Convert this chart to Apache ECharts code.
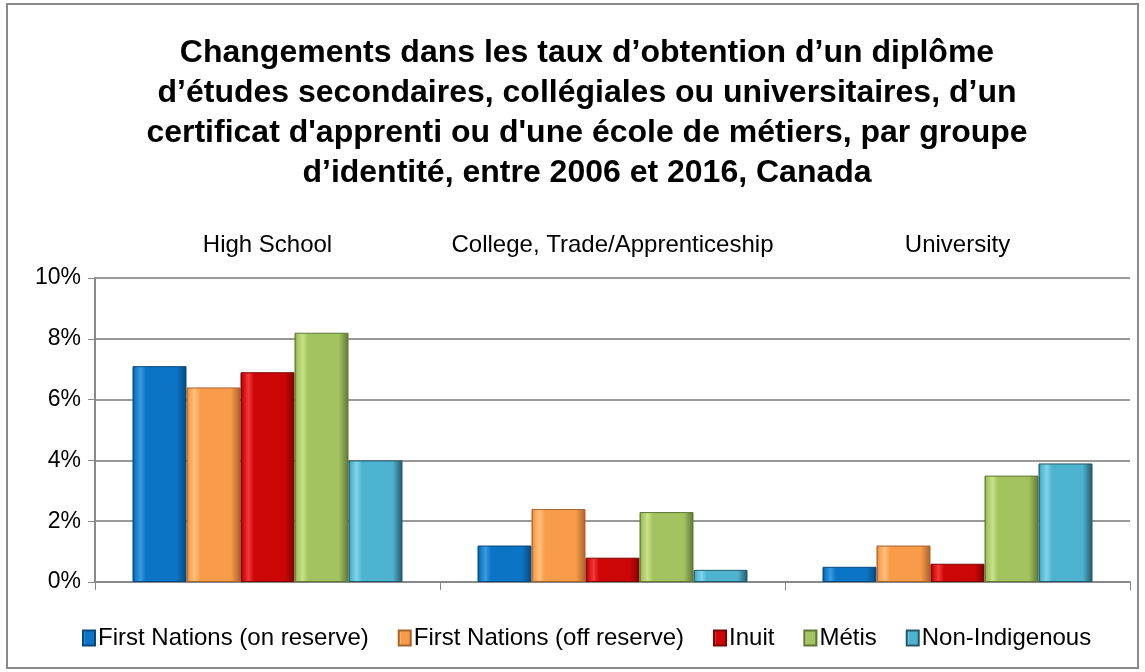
<!DOCTYPE html>
<html>
<head>
<meta charset="utf-8">
<script src="https://cdn.jsdelivr.net/npm/echarts@6/dist/echarts.min.js"></script>
<style>
  html, body { margin: 0; padding: 0; background: #fff; }
  #chart { width: 1145px; height: 672px; }
</style>
</head>
<body>
<div id="chart"></div>
<script>
// categories and values (percent change, 2006 to 2016)
const categories = ['High School', 'College, Trade/Apprenticeship', 'University']
const groups = ['First Nations (on reserve)', 'First Nations (off reserve)', 'Inuit', 'Métis', 'Non-Indigenous']
const onReserve = [7.1, 1.2, 0.5]
const offReserve = [6.4, 2.4, 1.2]
const inuit = [6.9, 0.8, 0.6]
const metis = [8.2, 2.3, 3.5]
const nonIndigenous = [4.0, 0.4, 3.9]
const yTicks = [0, 2, 4, 6, 8, 10]

const seriesValues = [onReserve, offReserve, inuit, metis, nonIndigenous]
// base, light, dark tones for the bevelled look
const palette = [
    ['#0b74c4', '#3a9be0', '#07497d'],
    ['#f99c4a', '#ffc07e', '#a9622a'],
    ['#cc0606', '#f23a3a', '#7d0303'],
    ['#a3c360', '#c8e288', '#5f7634'],
    ['#4db3cf', '#7fd5ea', '#23586a']
]

const font = '"Liberation Sans", Arial, sans-serif'

const chart = echarts.init(document.getElementById('chart'))

const series = groups.map((name, i) => ({
    name: name,
    type: 'bar',
    xAxisIndex: 0,
    barWidth: 54,
    barGap: '0%',
    data: seriesValues[i],
    itemStyle: {
        color: new echarts.graphic.LinearGradient(0, 0, 1, 0, [
            { offset: 0, color: palette[i][2] },
            { offset: 0.04, color: palette[i][0] },
            { offset: 0.15, color: palette[i][1] },
            { offset: 0.25, color: palette[i][0] },
            { offset: 0.82, color: palette[i][0] },
            { offset: 1, color: palette[i][2] }
        ]),
        borderColor: palette[i][2],
        borderWidth: 1
    }
}))

const option = {
    backgroundColor: '#fff',
    animation: false,
    color: palette.map(p => p[0]),
    title: {
        text: 'Changements dans les taux d\u2019obtention d\u2019un diplôme\nd\u2019études secondaires, collégiales ou universitaires, d\u2019un\ncertificat d\'apprenti ou d\'une école de métiers, par groupe\nd\u2019identité, entre 2006 et 2016, Canada',
        left: 582,
        textAlign: 'center',
        top: 28,
        textStyle: {
            fontFamily: font,
            fontSize: 32,
            fontWeight: 'bold',
            color: '#000',
            lineHeight: 40
        }
    },
    legend: {
        bottom: 17,
        left: 77,
        itemWidth: 12,
        itemHeight: 15,
        itemGap: 29,
        icon: 'rect',
        textStyle: { fontFamily: font, fontSize: 24, color: '#000', padding: [0, 0, 0, -2] },
        data: groups
    },
    grid: { left: 95, right: 15, top: 278, bottom: 90 },
    xAxis: [
        {
            type: 'category',
            data: categories,
            position: 'bottom',
            axisLine: { lineStyle: { color: '#888', width: 2 } },
            axisTick: { show: true, length: 8, lineStyle: { color: '#888' } },
            axisLabel: { show: false }
        },
        {
            type: 'category',
            data: categories,
            position: 'top',
            offset: 13,
            axisLine: { show: false },
            axisTick: { show: false },
            axisLabel: { fontFamily: font, fontSize: 24, color: '#000', interval: 0 }
        }
    ],
    yAxis: {
        type: 'value',
        min: yTicks[0],
        max: yTicks[yTicks.length - 1],
        interval: 2,
        axisLine: { show: true, lineStyle: { color: '#888', width: 2 } },
        axisTick: { show: true, length: 7, lineStyle: { color: '#888' } },
        axisLabel: {
            fontFamily: font, fontSize: 23, color: '#000', margin: 14,
            formatter: v => v + '%'
        },
        splitLine: { lineStyle: { color: '#999', width: 2 } }
    },
    series: series,
    graphic: [{
        type: 'rect',
        shape: { x: 7, y: 4, width: 1131, height: 664 },
        style: { fill: 'none', stroke: '#8a8a8a', lineWidth: 2 },
        silent: true
    }]
}

chart.setOption(option)
</script>
</body>
</html>
